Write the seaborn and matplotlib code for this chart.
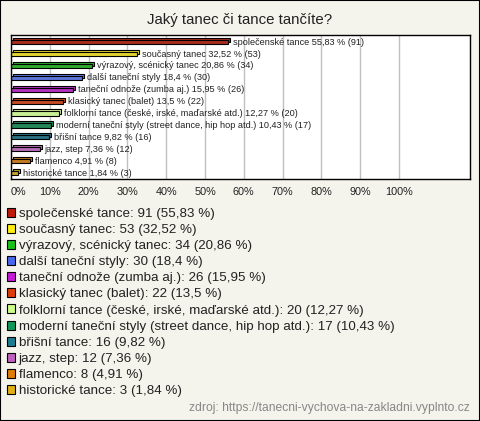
import matplotlib
matplotlib.use("Agg")
import matplotlib.pyplot as plt
import matplotlib.transforms as mtransforms
from matplotlib.patches import Patch, Rectangle
import seaborn as sns
import pandas as pd

categories = [
    "společenské tance",
    "současný tanec",
    "výrazový, scénický tanec",
    "další taneční styly",
    "taneční odnože (zumba aj.)",
    "klasický tanec (balet)",
    "folklorní tance (české, irské, maďarské atd.)",
    "moderní taneční styly (street dance, hip hop atd.)",
    "břišní tance",
    "jazz, step",
    "flamenco",
    "historické tance",
]
counts = [91, 53, 34, 30, 26, 22, 20, 17, 16, 12, 8, 3]
percents = [55.83, 32.52, 20.86, 18.4, 15.95, 13.5, 12.27, 10.43, 9.82, 7.36, 4.91, 1.84]
pct_labels = ["55,83", "32,52", "20,86", "18,4", "15,95", "13,5", "12,27", "10,43", "9,82", "7,36", "4,91", "1,84"]
colors = ["#c01a08", "#ffee10", "#18c018", "#4868f0", "#c818d8", "#e03c08",
          "#ccff88", "#109858", "#1c7c90", "#c060c0", "#e07c08", "#e0b010"]
xticks = [0, 10, 20, 30, 40, 50, 60, 70, 80, 90, 100]
title = "Jaký tanec či tance tančíte?"
source = "zdroj: https://tanecni-vychova-na-zakladni.vyplnto.cz"

df = pd.DataFrame({"cat": categories, "pct": percents})

sns.set_style("white")
plt.rcParams["font.family"] = ["Liberation Sans", "DejaVu Sans"]

BG = "#f4f3ec"
fig = plt.figure(figsize=(4.8, 4.21), dpi=100, facecolor=BG)
fig.patches.append(Rectangle((0, 0), 1, 1, transform=fig.transFigure,
                             fill=False, edgecolor="black", linewidth=1.5))

W, H = 480, 421
left, right, top, bottom = 11, 470, 35, 179
ax = fig.add_axes([left / W, 1 - bottom / H, (right - left) / W, (bottom - top) / H])
ax.set_facecolor("white")

sns.barplot(data=df, y="cat", x="pct", hue="cat", palette=colors, legend=False,
            orient="h", width=0.36, edgecolor="black", linewidth=0.8, ax=ax, zorder=3)

# 3D depth layer (shifted up-right), derived from the seaborn bars
offset = mtransforms.ScaledTranslation(2 / 100, 2 / 100, fig.dpi_scale_trans)
for p in list(ax.patches):
    back = Rectangle(p.get_xy(), p.get_width(), p.get_height(),
                     facecolor=p.get_facecolor(), edgecolor="black", linewidth=0.8,
                     transform=ax.transData + offset, zorder=2)
    ax.add_patch(back)
    p.set_zorder(3)

ax.set_xlim(0, 118.3)
ax.set_ylim(11.5, -0.6)
ax.set_xticks(xticks)
ax.set_xticklabels([f"{t}%" for t in xticks], fontsize=7.8, color="#222222")
ax.tick_params(axis="x", length=0, pad=6)
ax.get_xticklabels()[0].set_horizontalalignment("left")
ax.set_yticks([])
ax.set_xlabel("")
ax.set_ylabel("")
ax.grid(axis="x", color="#c0c0c0", linewidth=1, zorder=0)
ax.set_axisbelow(True)
for s in ax.spines.values():
    s.set_color("black")
    s.set_linewidth(1)
    s.set_zorder(5)

txt_off = mtransforms.ScaledTranslation(5 / 100, 0, fig.dpi_scale_trans)
for i, (c, pl, n) in enumerate(zip(categories, pct_labels, counts)):
    ax.text(percents[i], i, f"{c} {pl} % ({n})", fontsize=6.6, va="center", ha="left",
            transform=ax.transData + txt_off, color="#222222", zorder=4)

fig.text(0.5, 1 - 20 / H, title, ha="center", va="center", fontsize=10.8, color="#222222")

handles = [Patch(facecolor=col, edgecolor="black", linewidth=0.8) for col in colors]
labels = [f"{c}: {n} ({pl} %)" for c, n, pl in zip(categories, counts, pct_labels)]
fig.legend(handles, labels, loc="upper left", bbox_to_anchor=(4 / W, 1 - 205 / H),
           frameon=False, fontsize=9.6, handlelength=0.65, handleheight=0.65,
           handletextpad=0.25, labelspacing=0.30, borderaxespad=0, borderpad=0.2,
           labelcolor="#222222")

fig.text(1 - 10 / W, 1 - 408 / H, source, ha="right", va="center", fontsize=8.7, color="#888888")

fig.savefig("out.png", dpi=100, facecolor=BG)
